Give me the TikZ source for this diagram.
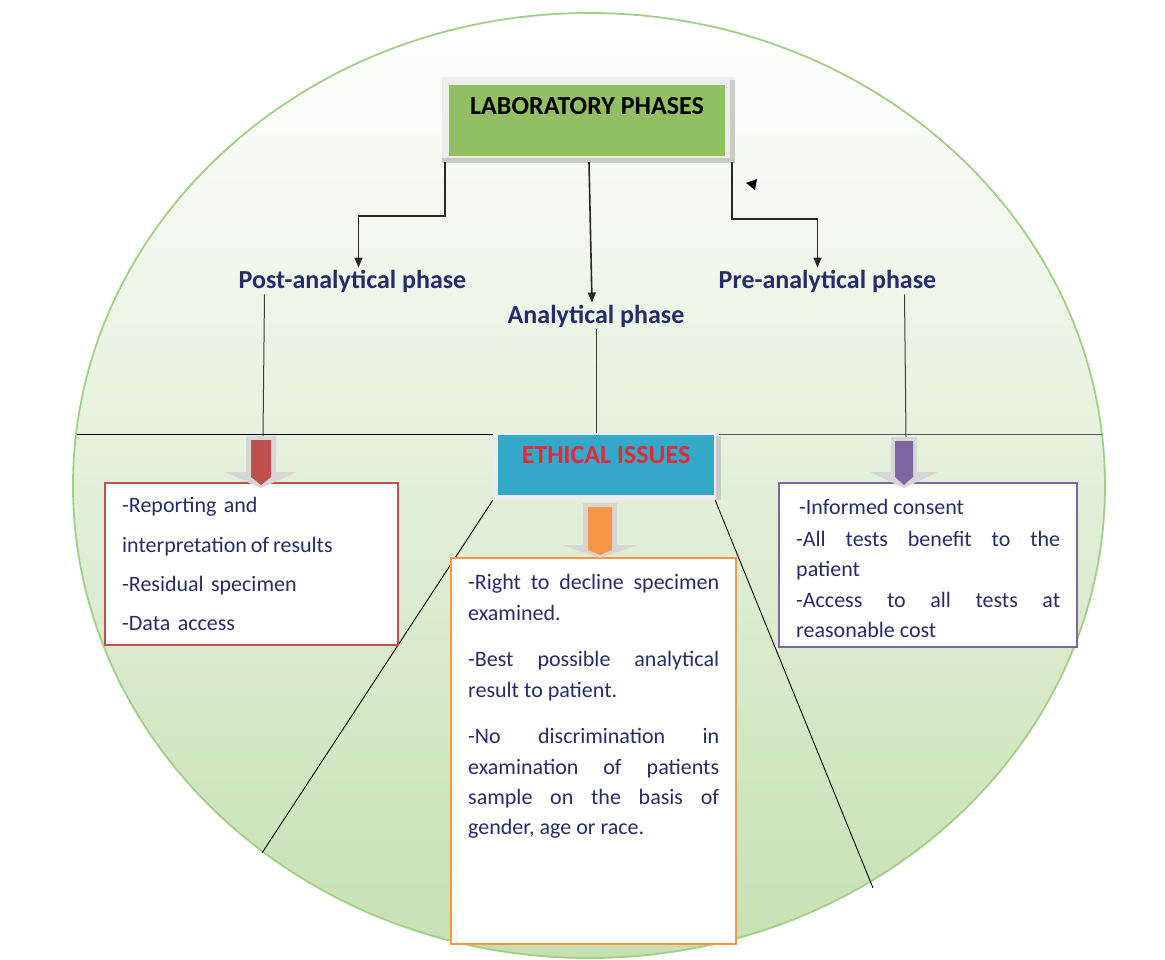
\documentclass[tikz,border=0pt]{standalone}
\usepackage{fontspec}
\setmainfont{Carlito}
\usetikzlibrary{arrows.meta}
\definecolor{navy}{RGB}{38,44,107}
\definecolor{labgreen}{RGB}{146,190,100}
\definecolor{ethblue}{RGB}{52,168,200}
\definecolor{ethred}{RGB}{232,38,52}
\definecolor{redc}{RGB}{192,80,77}
\definecolor{orangec}{RGB}{247,150,70}
\definecolor{purplec}{RGB}{128,100,162}
\definecolor{framegray}{RGB}{236,236,236}
\definecolor{shadowgray}{RGB}{196,204,196}
\definecolor{arrgray}{RGB}{214,214,214}
\definecolor{ellborder}{RGB}{160,208,135}
\definecolor{ellbottom}{RGB}{198,224,178}
\definecolor{ellmid}{RGB}{232,242,224}
\newcommand\blockarr[8]{%
  % #1 cx, #2 top, #3 headtop, #4 tip, #5 inner hw, #6 outer hw, #7 head hw, #8 colour
  \fill[arrgray] ({#1-#6},#2) -- ({#1+#6},#2) -- ({#1+#6},#3) -- ({#1+#7},#3)
    -- (#1,#4) -- ({#1-#7},#3) -- ({#1-#6},#3) -- cycle;
  \fill[#8] ({#1-#5},{#2+4}) -- ({#1+#5},{#2+4}) -- ({#1+#5},{#3+5})
    -- (#1,{#4-3}) -- ({#1-#5},{#3+5}) -- cycle;
}
\tikzset{
  phaselabel/.style={font=\fontsize{26}{30}\selectfont\bfseries, text=navy, inner sep=2pt},
  conn/.style={draw={rgb,255:red,40;green,40;blue,40}, line width=1.6pt,
    -{Triangle[width=8pt,length=10pt]}},
  thinline/.style={draw=black, line width=0.9pt},
  frame/.style={fill=framegray, draw=none, inner sep=0pt},
  bodytext/.style={text=navy, inner sep=0pt, anchor=north west},
  listbox/.style={fill=white, line width=2.5pt, inner sep=0pt},
}
\begin{document}
\begin{tikzpicture}[x=1pt,y=-1pt]
\useasboundingbox (0,0) rectangle (1165,960);
% background ellipse
\shade[top color=white, middle color=ellmid, bottom color=ellbottom]
  (589,485.5) ellipse [x radius=516pt, y radius=472.5pt];
\draw[ellborder, line width=1.8pt] (589,485.5) ellipse [x radius=516pt, y radius=472.5pt];

% frames (grey surrounds)
\node[frame, minimum width=292pt, minimum height=85pt] (labf) at (588,119.5) {};
\fill[shadowgray] (442,158) rectangle (734,163);
\fill[shadowgray] (730,80) rectangle (735,163);
\node[frame, minimum width=227pt, minimum height=67pt] (ethf) at (606.5,466.5) {};
\fill[shadowgray] (716,436) rectangle (721,500);

% coordinates
\coordinate (hl) at (77,434);
\coordinate (hr) at (1102,434);
\coordinate (redtop) at (263,436);
\coordinate (purtop) at (906,437);
\coordinate (dl) at (262,853);
\coordinate (dr) at (873,888);

% horizontal divider
\draw[thinline] (hl) -- (ethf.west |- hl);
\draw[draw={rgb,255:red,90;green,90;blue,90}, line width=0.9pt] ([xshift=-1pt]ethf.east |- hl) -- (hr);
% diagonals
\draw[thinline] (ethf.south west) -- (dl);
\draw[thinline] ([xshift=-5pt]ethf.south east) -- (dr);

% main boxes
\node[fill=labgreen, inner sep=0pt, minimum width=276pt, text height=30pt, text depth=41pt,
      font=\fontsize{26}{30}\selectfont\bfseries, text=black, anchor=base] (lab) at (587,115)
  {LABORATORY PHASES};
\node[fill=ethblue, inner sep=0pt, minimum width=216pt, text height=28pt, text depth=32pt,
      font=\fontsize{26}{30}\selectfont\bfseries, text=ethred, anchor=base] (eth) at (606,463)
  {ETHICAL ISSUES};

% phase labels
\node[phaselabel, anchor=base] (post) at (352.5,288) {Post-analytical phase};
\node[phaselabel, anchor=base] (ana) at (596,323) {Analytical phase};
\node[phaselabel, anchor=base] (pre) at (827.5,288) {Pre-analytical phase};

% connectors from laboratory phases
\draw[conn] ([xshift=3pt]labf.south west) -- ++(0,54) -| ([xshift=6pt]post.north);
\draw[conn] ([xshift=1pt]labf.south) -- ([xshift=-4pt]ana.north);
\draw[conn] ([xshift=-2pt]labf.south east) -- ++(0,57) -| ([xshift=-10pt]pre.north);
% stray arrowhead
\fill[black] (746,183) -- (757,179) -- (755,190) -- cycle;

% lines from phase labels to the divider
\draw[draw={rgb,255:red,60;green,60;blue,60}, line width=1pt] ([xshift=-88pt]post.south) -- (redtop);
\draw[draw={rgb,255:red,60;green,60;blue,60}, line width=1pt] (ana.south) -- (ethf.north -| ana.south);
\draw[draw={rgb,255:red,60;green,60;blue,60}, line width=1pt] ([xshift=77pt]pre.south) -- (purtop);

% list boxes
\node[listbox, draw=redc, minimum width=293pt, minimum height=162pt] (postbox) at (251.5,564) {};
\node[listbox, draw=orangec, minimum width=285pt, minimum height=386pt] (anabox) at (593.5,751) {};
\node[listbox, draw=purplec, minimum width=298pt, minimum height=164pt] (prebox) at (928,565) {};

% block arrows
\blockarr{261}{436}{472}{488}{10}{15}{36}{redc}
\blockarr{600}{503}{545}{558}{12}{17}{38}{orangec}
\blockarr{904}{437}{472}{488}{9}{13}{34}{purplec}

% texts
\node[bodytext, text width=270pt, align=left,
      font=\fontsize{22}{39.3}\selectfont] (posttext) at (122,497.4)
  {-Reporting and\\{\spaceskip=0.18em interpretation of results}\\-Residual specimen\\-Data access};
\node[bodytext, text width=251pt, align=justify,
      font=\fontsize{22}{30.3}\selectfont] (anatext) at (468,574.4)
  {\hyphenpenalty=10000\exhyphenpenalty=10000\setlength{\parskip}{16.4pt}%
   -Right to decline specimen\linebreak examined.\par
   -Best possible analytical\linebreak result to patient.\par
   -No discrimination in\linebreak examination of patients\linebreak sample on the basis of\linebreak gender, age or race.};
\node[bodytext, text width=264pt, align=justify,
      font=\fontsize{22}{29.6}\selectfont] (pretext) at (796,499.4)
  {\hyphenpenalty=10000\exhyphenpenalty=10000\setlength{\parskip}{2pt}%
   \hspace*{3pt}-Informed consent\par
   -All tests benefit to the\linebreak patient\par
   -Access to all tests at\linebreak reasonable cost};
\end{tikzpicture}
\end{document}
